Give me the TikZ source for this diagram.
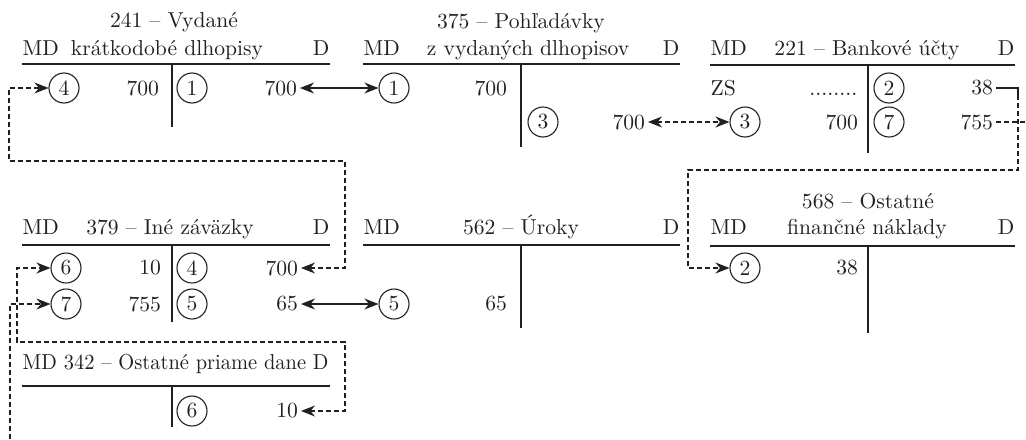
\documentclass[tikz,border=0pt]{standalone}
\usepackage{fontspec}
\usepackage{tikz}
\usetikzlibrary{arrows.meta}
\definecolor{ink}{RGB}{35,31,32}

\tikzset{
  acc/.style={line width=0.9pt},
  lab/.style={anchor=base,inner sep=0pt},
  num/.style={anchor=east,inner sep=0pt,outer sep=1.5pt},
  tx/.style={circle,draw,line width=0.55pt,minimum size=15pt,inner sep=0pt},
  dashline/.style={dash pattern=on 2.5pt off 1.5pt},
}

\begin{document}
\begin{tikzpicture}
[x=0.5pt,y=-0.5pt,color=ink,line width=0.6pt,
 font=\fontsize{10.8}{13}\selectfont,
 >={Stealth[length=7pt,width=5.5pt]}]
\useasboundingbox (0,0) rectangle (1026,439);
% Nodes of the diagram

% 241
\node[lab] (t241a) at (174,27) {241 -- Vydané};
\node[lab,anchor=base west] (md241) at (22,55) {MD};
\node[lab] (t241b) at (167,55) {krátkodobé dlhopisy};
\node[lab,anchor=base east] (d241) at (330,55) {D};
\draw[acc] (22,64) -- (330,64) (172,64) -- (172,127);
\node[tx] (c241m4) at (64,88) {4};
\node[num] (v241m4) at (162,88) {700};
\node[tx] (c241d1) at (192,88) {1};
\node[num] (v241d1) at (300,88) {700};

% 375
\node[lab] (t375a) at (521,28) {375 -- Pohľadávky};
\node[lab,anchor=base west] (md375) at (363,55) {MD};
\node[lab] (t375b) at (528,55) {z vydaných dlhopisov};
\node[lab,anchor=base east] (d375) at (680,55) {D};
\draw[acc] (363,64) -- (680,64) (521,64) -- (521,147);
\node[tx] (c375m1) at (394,88) {1};
\node[num] (v375m1) at (510,88) {700};
\node[tx] (c375d3) at (543,122) {3};
\node[num] (v375d3) at (648,122) {700};

% 221
\node[lab,anchor=base west] (md221) at (710,55) {MD};
\node[lab] (t221) at (867,55) {221 -- Bankové účty};
\node[lab,anchor=base east] (d221) at (1015,55) {D};
\draw[acc] (710,65) -- (1015,65) (868,65) -- (868,153);
\node[anchor=west,inner sep=0pt] (zs) at (710,88) {ZS};
\node[anchor=base east,inner sep=0pt] (dots) at (858,95) {........};
\node[tx] (c221m3) at (745,122) {3};
\node[num] (v221m3) at (861,122) {700};
\node[tx] (c221d2) at (889,88) {2};
\node[num] (v221d2) at (996,88) {38};
\node[tx] (c221d7) at (889,122) {7};
\node[num] (v221d7) at (996,122) {755};

% 379
\node[lab,anchor=base west] (md379) at (22,234) {MD};
\node[lab] (t379) at (170,234) {379 -- Iné záväzky};
\node[lab,anchor=base east] (d379) at (330,234) {D};
\draw[acc] (22,245) -- (330,245) (172,245) -- (172,322);
\node[tx] (c379m6) at (66,268) {6};
\node[num] (v379m6) at (164,268) {10};
\node[tx] (c379d4) at (192,268) {4};
\node[num] (v379d4) at (301,268) {700};
\node[tx] (c379m7) at (66,304) {7};
\node[num] (v379m7) at (164,304) {755};
\node[tx] (c379d5) at (192,304) {5};
\node[num] (v379d5) at (301,304) {65};

% 562
\node[lab,anchor=base west] (md562) at (363,234) {MD};
\node[lab] (t562) at (521,234) {562 -- Úroky};
\node[lab,anchor=base east] (d562) at (680,234) {D};
\draw[acc] (363,245) -- (680,245) (521,245) -- (521,328);
\node[tx] (c562m5) at (394,304) {5};
\node[num] (v562m5) at (510,304) {65};

% 568
\node[lab] (t568a) at (868,208) {568 -- Ostatné};
\node[lab,anchor=base west] (md568) at (710,234) {MD};
\node[lab] (t568b) at (867,234) {finančné náklady};
\node[lab,anchor=base east] (d568) at (1015,234) {D};
\draw[acc] (710,246) -- (1015,246) (868,246) -- (868,333);
\node[tx] (c568m2) at (745,268) {2};
\node[num] (v568m2) at (861,268) {38};

% 342 (one line, squeezed to the width of the account)
\node[lab,anchor=base west] (t342) at (22,369)
  {\resizebox{153pt}{\height}{MD 342 -- Ostatné priame dane D}};
\draw[acc] (22,386) -- (330,386) (172,386) -- (172,427);
\node[tx] (c342d6) at (192,411) {6};
\node[num] (v342d6) at (301,411) {10};

% corners of the dashed links
\coordinate (k4a) at (345,161);
\coordinate (k4b) at (9,161);
\coordinate (k2c) at (1018,95);
\coordinate (k2a) at (1018,170);
\coordinate (k2b) at (688,170);
\coordinate (k6a) at (345,342);
\coordinate (k6b) at (17,342);
\coordinate (k7a) at (1026,122);
\coordinate (k7b) at (10,439);

% links
\draw[<->] (v241d1.east) -- (c375m1.west);
\draw[<->,dashline] (v375d3.east) -- (c221m3.west);
\draw[<->] (v379d5.east) -- (c562m5.west);
\draw[<->,dashline] (v379d4.east) -| (k4a) -- (k4b) |- (c241m4.west);
\draw (v221d2.east) -| (k2c);
\draw[->,dashline] (k2c) -- (k2a) -- (k2b) |- (c568m2.west);
\draw[<->,dashline] (v342d6.east) -| (k6a) -- (k6b) |- (c379m6.west);
\draw[dashline] (v221d7.east) -- (k7a);
\draw[->,dashline] (k7b) |- (c379m7.west);
\end{tikzpicture}
\end{document}
